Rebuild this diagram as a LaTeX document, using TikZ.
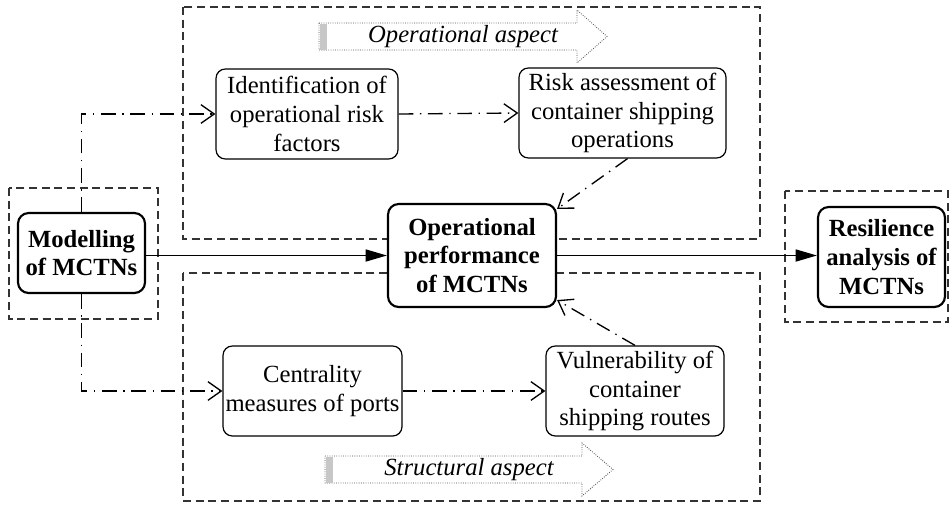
\documentclass[tikz,border=0pt]{standalone}
\usepackage{fontspec}
\setmainfont{Liberation Serif}
\usetikzlibrary{arrows.meta,calc}
\begin{document}
\begin{tikzpicture}[x=0.75pt,y=-0.75pt,
  every node/.style={font=\fontsize{18.5}{21.5}\selectfont},
  box/.style={draw, rounded corners=7pt, fill=white, align=center, inner sep=0pt, line width=0.9pt, text=black},
  mainbox/.style={box, line width=1.6pt, font=\fontsize{18.5}{21.5}\selectfont\bfseries, rounded corners=8pt},
  region/.style={draw=black!80, line width=0.8pt, dash pattern=on 6pt off 3.5pt},
  dd/.style={line width=1pt, dash pattern=on 11pt off 5pt on 1pt off 5pt, -{Straight Barb[length=10pt,width=14pt,line width=1pt]}},
  mainarrow/.style={line width=1.3pt, -{Triangle[length=16pt,width=9pt]}},
  aspect/.style={draw=black!70, line width=0.6pt, dash pattern=on 0.6pt off 1.1pt, fill=white},
  aspectshade/.style={fill=black!22, draw=none},
  aspecttext/.style={font=\fontsize{18.5}{21.5}\selectfont\itshape, text=black}
]
\useasboundingbox (0,0) rectangle (949,507);

% dashed regions
\draw[region] (9,188) rectangle (158,319);
\draw[region] (183,7) rectangle (760,239);
\draw[region] (183,273) rectangle (760,501);
\draw[region] (785,191) rectangle (948,322);

% aspect arrows
\draw[aspect] (319,23) -- (577,23) -- (577,10) -- (607,36.5) -- (577,63) -- (577,50) -- (319,50) -- cycle;
\fill[aspectshade] (319.5,23.5) rectangle (327,49.5);
\node[aspecttext] (opasp) at (463,37) {Operational aspect};

\draw[aspect] (325,456) -- (582,456) -- (582,443) -- (613,469.5) -- (582,496) -- (582,483) -- (325,483) -- cycle;
\fill[aspectshade] (325.5,456.5) rectangle (333,482.5);
\node[aspecttext] (stasp) at (469,470) {Structural aspect};

% nodes
\node[mainbox, minimum width=95.25pt, minimum height=60pt] (mod) at (81.5,253) {Modelling\\of MCTNs};
\node[mainbox, minimum width=126pt, minimum height=77.25pt] (perf) at (472,255.5) {Operational\\performance\\of MCTNs};
\node[mainbox, minimum width=95.25pt, minimum height=75pt] (res) at (881.5,257) {Resilience\\analysis of\\MCTNs};

\node[box, minimum width=136.5pt, minimum height=67.5pt] (ident) at (307,114) {Identification of\\operational risk\\factors};
\node[box, minimum width=155.25pt, minimum height=67.5pt] (risk) at (622.5,113) {Risk assessment of\\container shipping\\operations};
\node[box, minimum width=134.25pt, minimum height=67.5pt] (cent) at (312.5,391) {Centrality\\measures of ports};
\node[box, minimum width=133.5pt, minimum height=67.5pt] (vuln) at (635,391) {Vulnerability of\\container\\shipping routes};

% connectors
\draw[dd] (mod.north) |- (ident.west);
\draw[dd] (mod.south) |- (cent.west);
\draw[dd] (ident.east) -- (risk.west);
\draw[dd] (cent.east) -- (vuln.west);
\draw[dd] ($(risk.south)+(5,0)$) -- ($(perf.north east)+(0,6)$);
\draw[dd] (vuln.north) -- ($(perf.south east)+(0,-8)$);

\draw[mainarrow] (mod.east |- perf.west) -- (perf.west);
\draw[mainarrow] (perf.east) -- (perf.east -| res.west);
\end{tikzpicture}
\end{document}
